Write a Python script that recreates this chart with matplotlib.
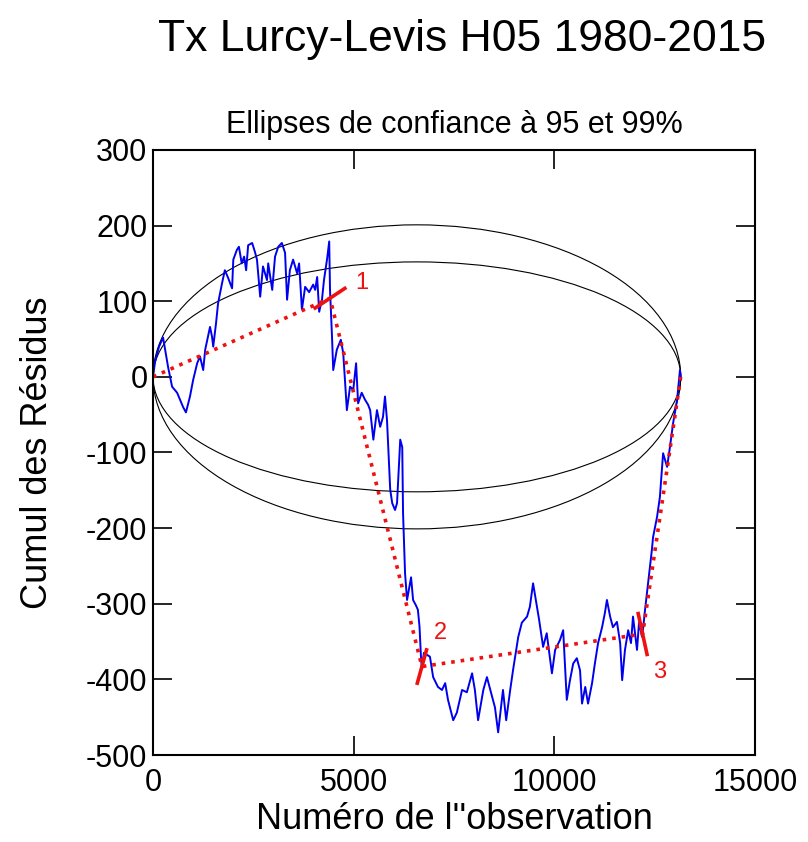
import matplotlib
matplotlib.use("Agg")
import matplotlib.pyplot as plt
from matplotlib.patches import Ellipse

plt.rcParams['font.family'] = ['Liberation Sans', 'DejaVu Sans']
plt.rcParams['axes.unicode_minus'] = False

# cumul des residus
obs = [0, 50, 150, 250, 375, 475, 600, 750, 820, 920, 1000, 1100, 1170, 1250,
       1300, 1420, 1470, 1500, 1570, 1620, 1720, 1790, 1870, 1970, 2000, 2090,
       2140, 2210, 2270, 2320, 2370, 2470, 2540, 2590, 2670, 2740, 2840, 2870,
       2970, 3040, 3120, 3210, 3290, 3340, 3410, 3490, 3590, 3640, 3710, 3790,
       3890, 3990, 4040, 4090, 4140, 4210, 4260, 4340, 4390, 4410, 4460, 4490,
       4580, 4680, 4740, 4830, 4910, 4990, 5060, 5110, 5200, 5280, 5360, 5410,
       5490, 5580, 5660, 5730, 5780, 5830, 5910, 5960, 6030, 6080, 6160, 6210,
       6230, 6280, 6330, 6430, 6480, 6550, 6600, 6640, 6680, 6700, 6750, 6900,
       6980, 7100, 7200, 7280, 7350, 7480, 7570, 7700, 7820, 7950, 8020, 8100,
       8230, 8320, 8450, 8520, 8600, 8720, 8800, 8900, 8970, 9100, 9190, 9320,
       9390, 9470, 9540, 9620, 9720, 9810, 9940, 10020, 10140, 10220, 10310,
       10390, 10470, 10560, 10640, 10690, 10770, 10840, 10940, 11010, 11090,
       11190, 11260, 11310, 11390, 11460, 11560, 11640, 11690, 11760, 11840,
       11910, 11960, 12060, 12110, 12190, 12260, 12430, 12460, 12560, 12630,
       12710, 12810, 12880, 12960, 13060, 13130, 13149]
cumul = [0, 20, 40, 52, 13, -13, -21, -40, -47, -26, -4, 18, 27, 9,
         36, 66, 53, 40, 71, 97, 124, 141, 131, 117, 155, 168,
         172, 150, 159, 141, 174, 177, 165, 155, 106, 146, 128, 150,
         115, 159, 172, 177, 164, 102, 141, 155, 137, 150, 89, 119,
         112, 122, 115, 132, 86, 102, 128, 157, 179, 115, 53, 9,
         36, 49, 31, -44, -13, -17, 18, -35, -21, -30, -37, -44,
         -83, -44, -66, -53, -26, -57, -149, -167, -176, -167, -83, -93,
         -180, -260, -295, -265, -295, -302, -308, -330, -374, -385, -365, -370,
         -397, -410, -414, -405, -427, -454, -444, -414, -417, -392, -414, -454,
         -414, -397, -423, -437, -470, -414, -454, -414, -388, -344, -325, -317,
         -304, -273, -295, -321, -357, -339, -392, -361, -348, -335, -427,
         -401, -379, -372, -388, -432, -410, -432, -405, -379, -352,
         -331, -312, -295, -317, -331, -324, -352, -401, -361, -335,
         -352, -317, -361, -325, -344, -308, -229, -212, -185, -159,
         -101, -119, -93, -61, -30, 9, 0]

n_obs = 13149
ellipse_half_heights = [152, 201]  # 95 % et 99 %

# ruptures
rupt_x = [0, 4410, 6700, 12200, 13149]
rupt_y = [0, 104, -383, -340, 0]
rupt_tick_dx = [370, 115, -110]
rupt_tick_dy = [13, 22, 27]
rupt_labels = ['1', '2', '3']
label_dx = [790, 450, 430]
label_dy = [20, 44, -50]

fig = plt.figure(figsize=(8.08, 8.42), dpi=100)
ax = fig.add_axes([0.1894, 0.1033, 0.7450, 0.7186])

for b in ellipse_half_heights:
    ax.add_patch(Ellipse((n_obs / 2, 0), n_obs, 2 * b, fill=False,
                         edgecolor='black', linewidth=0.8))

ax.plot(obs, cumul, color='#0000ee', linewidth=1.4)
ax.plot(rupt_x, rupt_y, color='#ee1111', linestyle=':', linewidth=2.6)

for i in range(len(rupt_labels)):
    x0, y0 = rupt_x[i + 1], rupt_y[i + 1]
    ax.plot([x0 - rupt_tick_dx[i], x0 + rupt_tick_dx[i]],
            [y0 - rupt_tick_dy[i], y0 + rupt_tick_dy[i]],
            color='#ee1111', linewidth=2.6)
    ax.text(x0 + label_dx[i], y0 + label_dy[i], rupt_labels[i], color='#ee1111',
            fontsize=17, ha='center', va='center')

ax.set_xlim(0, 15000)
ax.set_ylim(-500, 300)
ax.set_xticks([0, 5000, 10000, 15000])
ax.set_yticks(range(-500, 301, 100))
ax.tick_params(direction='in', length=14, width=1.2, labelsize=22,
               top=True, right=True)
ax.tick_params(axis='x', pad=9)
ax.tick_params(axis='y', pad=4)
for s in ax.spines.values():
    s.set_linewidth(1.5)

ax.set_xlabel("Numéro de l''observation", fontsize=26, labelpad=3)
ax.set_ylabel('Cumul des Résidus', fontsize=26, labelpad=22)
ax.set_title('Ellipses de confiance à 95 et 99%', fontsize=22, pad=12)
fig.suptitle('Tx Lurcy-Levis H05 1980-2015', fontsize=32, x=0.572, y=0.978)

fig.savefig('out.png', dpi=100)
